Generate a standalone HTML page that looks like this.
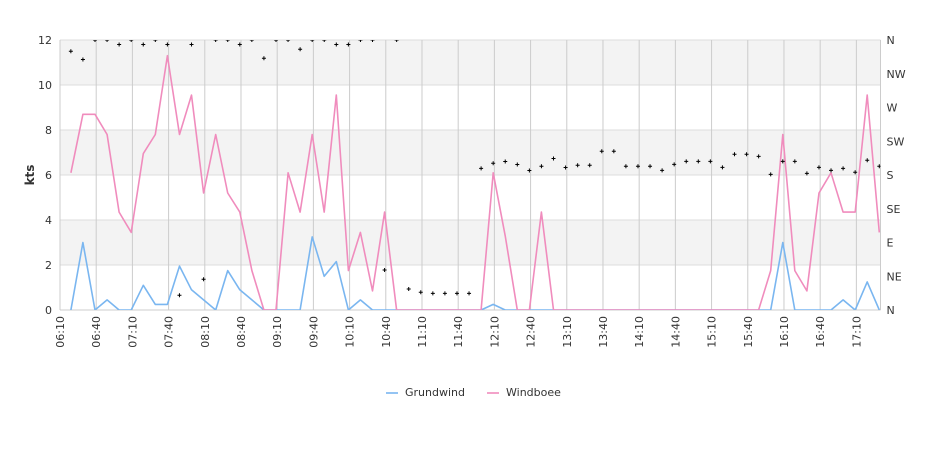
<!DOCTYPE html>
<html><head><meta charset="utf-8"><style>
body{margin:0;background:#fff;font-family:"Liberation Sans","DejaVu Sans",sans-serif;}
svg text{font-family:"DejaVu Sans","Liberation Sans",sans-serif;fill:#333;}
</style></head><body>
<svg id="chart" width="940" height="450" xmlns="http://www.w3.org/2000/svg"></svg>
<script>
const startMinute = 6*60+19; // first sample 06:19, 10-minute steps
const stepMinutes = 10;
const grundwind = [0,3.0,0,0.45,0,0,1.1,0.25,0.25,1.95,0.9,0.45,0,1.75,0.9,0.45,0,0,0,0,3.25,1.5,2.15,0,0.45,0,0,0,0,0,0,0,0,0,0,0.25,0,0,0,0,0,0,0,0,0,0,0,0,0,0,0,0,0,0,0,0,0,0,0,3.0,0,0,0,0,0.45,0,1.25,0];
const windboee = [6.1,8.7,8.7,7.8,4.35,3.45,6.95,7.8,11.3,7.8,9.55,5.2,7.8,5.2,4.35,1.75,0,0,6.1,4.35,7.8,4.35,9.55,1.75,3.45,0.85,4.35,0,0,0,0,0,0,0,0,6.1,3.3,0,0,4.35,0,0,0,0,0,0,0,0,0,0,0,0,0,0,0,0,0,0,1.75,7.8,1.75,0.85,5.2,6.1,4.35,4.35,9.55,3.45];
const direction = [345,334,360,360,354,360,354,360,354,19.6,354,41,360,360,354,360,335.6,360,360,347.6,360,360,354,354,360,360,53.3,360,28,23.6,22.2,22.2,22.2,22.2,188.9,195.6,198,194,186,191.6,202,190,193,193,211.6,211.6,191.6,191.6,191.6,186.2,194.2,198.2,198.2,198.2,190.2,207.6,207.6,204.9,180.9,198.2,198.2,182.2,190.2,186.2,188.9,183.6,199.6,191.6];
const yTicks = [0,2,4,6,8,10,12];
const dirLabels = ["N","NE","E","SE","S","SW","W","NW","N"];
const xTickMinutes = [];
for (let m=6*60+10; m<=17*60+10; m+=30) xTickMinutes.push(m);

const L=60,R=880.5,T=40,B=310;
const xMin=6*60+10, xMax=17*60+30;
const X=m=>L+(m-xMin)/(xMax-xMin)*(R-L);
const Y=v=>B-v/12*(B-T);
const D=d=>B-d/360*(B-T);
const svg=document.getElementById('chart');
const NS='http://www.w3.org/2000/svg';
function mk(tag,attrs,parent){const e=document.createElementNS(NS,tag);for(const k in attrs)e.setAttribute(k,attrs[k]);(parent||svg).appendChild(e);return e;}

const defs=mk('defs',{});
const cp=mk('clipPath',{id:'plotclip'},defs);
mk('rect',{x:L,y:T,width:R-L,height:B-T},cp);

// bands
for(let i=0;i<yTicks.length-1;i++){
  if(i%2===1){const b=mk('rect',{x:L,y:Y(yTicks[i+1]),width:R-L,height:Y(yTicks[i])-Y(yTicks[i+1]),fill:'#f3f3f3'});
  }
}
yTicks.forEach(v=>{
  const l=mk('line',{x1:L,x2:R,y1:Y(v),y2:Y(v),stroke:'#dddddd'});
  
  const t=mk('text',{x:L-8,y:Y(v)+4,'text-anchor':'end','font-size':'11'});t.textContent=v;
  
});
dirLabels.forEach((s,i)=>{
  const t=mk('text',{x:R+6,y:D(i*45)+4,'font-size':'11'});t.textContent=s;
  
});
const fmt=m=>String(Math.floor(m/60)).padStart(2,'0')+':'+String(m%60).padStart(2,'0');
xTickMinutes.forEach(m=>{
  const x=X(m);
  const l=mk('line',{x1:x,x2:x,y1:T,y2:B,stroke:'#cccccc'});
  
  const t=mk('text',{x:0,y:0,'text-anchor':'end','font-size':'11',transform:`translate(${x+4},${B+6}) rotate(-90)`});t.textContent=fmt(m);
  
});
mk('line',{x1:L,x2:R,y1:B,y2:B,stroke:'#cccccc'});
mk('line',{x1:R,x2:R,y1:T,y2:B,stroke:'#cccccc'});
const yt=mk('text',{x:0,y:0,'text-anchor':'middle','font-size':'12','font-weight':'bold',transform:'translate(34,175) rotate(-90)'});yt.textContent='kts';


const g=mk('g',{'clip-path':'url(#plotclip)'});
function series(vals,color,name){
  const d=vals.map((v,i)=>(i?'L':'M')+X(startMinute+i*stepMinutes).toFixed(1)+','+Y(v).toFixed(1)).join('');
  const p=mk('path',{d,fill:'none',stroke:color,'stroke-width':'1.6','stroke-linejoin':'round'},g);
  
}
series(grundwind,'#7ab6f0','grundwind-line');
series(windboee,'#f08cbd','windboee-line');
direction.forEach((d,i)=>{
  const x=X(startMinute+i*stepMinutes),y=D(d);
  const p=mk('path',{d:`M${x-2},${y}H${x+2}M${x},${y-2}V${y+2}`,stroke:'#000','stroke-width':'1'},g);
  
});

// legend
const lg=mk('g',{});
[[386,'#7ab6f0','Grundwind'],[487,'#f08cbd','Windboee']].forEach(([x,c,s])=>{
  const e=mk('g',{},lg);
  mk('line',{x1:x,x2:x+12,y1:393,y2:393,stroke:c,'stroke-width':'1.6'},e);
  const t=mk('text',{x:x+19,y:396,'font-size':'11'},e);t.textContent=s;
});
</script>
</body></html>
